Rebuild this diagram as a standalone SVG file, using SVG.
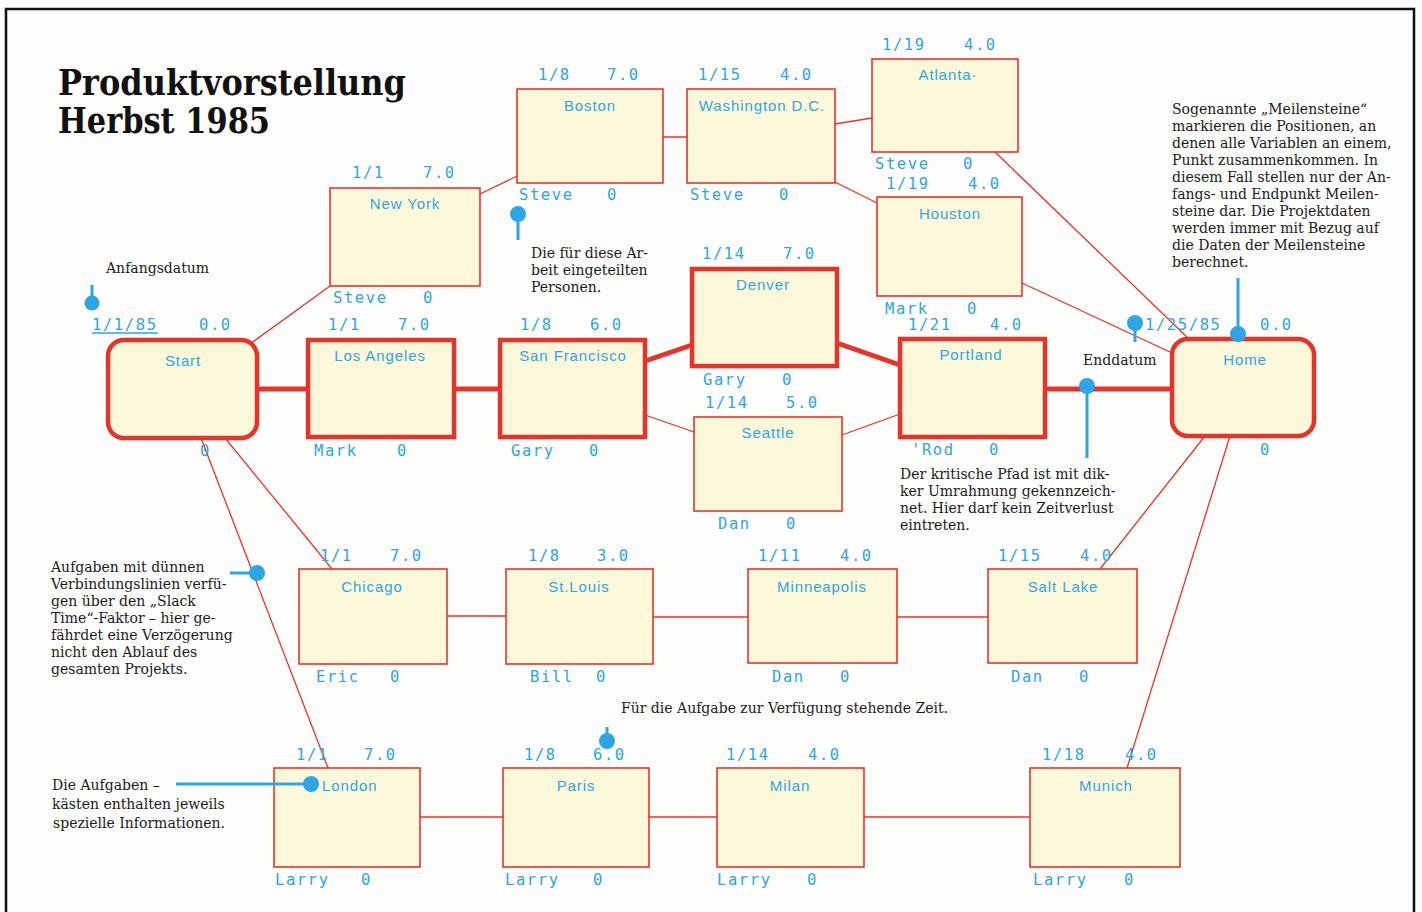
<svg xmlns="http://www.w3.org/2000/svg" width="1422" height="912" viewBox="0 0 1422 912">
<style>
.box{fill:#fcf9da;stroke:#e8332b;stroke-width:1.6}
.crit{stroke-width:4.5}
.t{font-family:"Liberation Sans",Arial,sans-serif;font-size:15px;fill:#2ea5e5;letter-spacing:0.9px}
.s{font-family:"DejaVu Sans Mono","Liberation Mono",monospace;font-size:15.5px;letter-spacing:1.6px}
.c{text-anchor:middle}
.thin{fill:none;stroke:#e8332b;stroke-width:1.3}
.thick{fill:none;stroke:#e8332b;stroke-width:5}
.note{font-family:"DejaVu Serif","Liberation Serif",serif;font-size:14px;fill:#1b1b1b}
.pin{fill:#2ea5e5}
.pl{stroke:#2ea5e5;stroke-width:3}
</style>
<rect x="0" y="0" width="1422" height="912" fill="#fdfdfb"/>
<rect x="6" y="9" width="1408" height="912" fill="none" stroke="#111" stroke-width="2.5"/>
<g id="title" font-family="'DejaVu Serif','Liberation Serif',serif" font-weight="bold" font-size="35" fill="#111">
<text x="58" y="95" textLength="348" lengthAdjust="spacingAndGlyphs">Produktvorstellung</text>
<text x="58" y="133" textLength="212" lengthAdjust="spacingAndGlyphs">Herbst 1985</text>
</g>
<g id="connectors">
<path class="thick" d="M257 389H308M454 389H500M645 361L692 345M837 343L900 365M1045 389H1172"/>
<path class="thin" d="M250 344L330 286M480 194L517 176M663 137H687M835 124L872 118M835 182L877 203M995 152L1190 340M1022 283L1172 353M645 415L694 432M842 435L900 414M201 438L328 768M225 438L332 569M447 616H506M653 617H748M897 617H988M1205 436L1100 569M1230 436L1127 768M420 817H503M649 817H717M864 817H1030"/>
</g>
<g id="start">
<rect class="box crit" x="108" y="340" width="149" height="98" rx="16"/>
<text class="t s" x="92" y="330">1/1/85</text><line x1="92" y1="333" x2="158" y2="333" stroke="#2ea5e5" stroke-width="1.3"/>
<text class="t s" x="199" y="330">0.0</text>
<text class="t c" x="183" y="366">Start</text>
<text class="t s" x="200" y="456">0</text>
</g>
<g id="newyork">
<rect class="box" x="330" y="188" width="150" height="98"/>
<text class="t s" x="352" y="178">1/1</text><text class="t s" x="423" y="178">7.0</text>
<text class="t c" x="405" y="209">New York</text>
<text class="t s" x="333" y="303">Steve</text><text class="t s" x="423" y="303">0</text>
</g>
<g id="boston">
<rect class="box" x="517" y="89" width="146" height="94"/>
<text class="t s" x="538" y="80">1/8</text><text class="t s" x="607" y="80">7.0</text>
<text class="t c" x="590" y="111">Boston</text>
<text class="t s" x="519" y="200">Steve</text><text class="t s" x="607" y="200">0</text>
</g>
<g id="washington">
<rect class="box" x="687" y="89" width="148" height="94"/>
<text class="t s" x="698" y="80">1/15</text><text class="t s" x="780" y="80">4.0</text>
<text class="t c" x="762" y="111">Washington D.C.</text>
<text class="t s" x="690" y="200">Steve</text><text class="t s" x="779" y="200">0</text>
</g>
<g id="atlanta">
<rect class="box" x="872" y="59" width="146" height="93"/>
<text class="t s" x="882" y="50">1/19</text><text class="t s" x="964" y="50">4.0</text>
<text class="t c" x="948" y="80">Atlanta·</text>
<text class="t s" x="875" y="169">Steve</text><text class="t s" x="963" y="169">0</text>
</g>
<g id="houston">
<rect class="box" x="877" y="197" width="145" height="99"/>
<text class="t s" x="886" y="189">1/19</text><text class="t s" x="968" y="189">4.0</text>
<text class="t c" x="950" y="219">Houston</text>
<text class="t s" x="885" y="314">Mark</text><text class="t s" x="967" y="314">0</text>
</g>
<g id="denver">
<rect class="box crit" x="692" y="269" width="145" height="97"/>
<text class="t s" x="702" y="259">1/14</text><text class="t s" x="783" y="259">7.0</text>
<text class="t c" x="763" y="290">Denver</text>
<text class="t s" x="703" y="385">Gary</text><text class="t s" x="782" y="385">0</text>
</g>
<g id="seattle">
<rect class="box" x="694" y="417" width="148" height="94"/>
<text class="t s" x="705" y="408">1/14</text><text class="t s" x="786" y="408">5.0</text>
<text class="t c" x="768" y="438">Seattle</text>
<text class="t s" x="718" y="529">Dan</text><text class="t s" x="786" y="529">0</text>
</g>
<g id="losangeles">
<rect class="box crit" x="308" y="340" width="146" height="97"/>
<text class="t s" x="328" y="330">1/1</text><text class="t s" x="398" y="330">7.0</text>
<text class="t c" x="380" y="361">Los Angeles</text>
<text class="t s" x="314" y="456">Mark</text><text class="t s" x="397" y="456">0</text>
</g>
<g id="sanfrancisco">
<rect class="box crit" x="500" y="340" width="145" height="97"/>
<text class="t s" x="520" y="330">1/8</text><text class="t s" x="590" y="330">6.0</text>
<text class="t c" x="573" y="361">San Francisco</text>
<text class="t s" x="511" y="456">Gary</text><text class="t s" x="589" y="456">0</text>
</g>
<g id="portland">
<rect class="box crit" x="900" y="339" width="145" height="98"/>
<text class="t s" x="908" y="330">1/21</text><text class="t s" x="990" y="330">4.0</text>
<text class="t c" x="971" y="360">Portland</text>
<text class="t s" x="911" y="455">'Rod</text><text class="t s" x="989" y="455">0</text>
</g>
<g id="home">
<rect class="box crit" x="1172" y="339" width="142" height="97" rx="16"/>
<text class="t s" x="1145" y="330">1/25/85</text><text class="t s" x="1260" y="330">0.0</text>
<text class="t c" x="1245" y="365">Home</text>
<text class="t s" x="1260" y="455">0</text>
</g>
<g id="chicago">
<rect class="box" x="299" y="569" width="148" height="95"/>
<text class="t s" x="320" y="561">1/1</text><text class="t s" x="390" y="561">7.0</text>
<text class="t c" x="372" y="592">Chicago</text>
<text class="t s" x="316" y="682">Eric</text><text class="t s" x="390" y="682">0</text>
</g>
<g id="stlouis">
<rect class="box" x="506" y="569" width="147" height="95"/>
<text class="t s" x="528" y="561">1/8</text><text class="t s" x="597" y="561">3.0</text>
<text class="t c" x="579" y="592">St.Louis</text>
<text class="t s" x="530" y="682">Bill</text><text class="t s" x="596" y="682">0</text>
</g>
<g id="minneapolis">
<rect class="box" x="748" y="569" width="149" height="94"/>
<text class="t s" x="758" y="561">1/11</text><text class="t s" x="840" y="561">4.0</text>
<text class="t c" x="822" y="592">Minneapolis</text>
<text class="t s" x="772" y="682">Dan</text><text class="t s" x="840" y="682">0</text>
</g>
<g id="saltlake">
<rect class="box" x="988" y="569" width="149" height="94"/>
<text class="t s" x="998" y="561">1/15</text><text class="t s" x="1080" y="561">4.0</text>
<text class="t c" x="1063" y="592">Salt Lake</text>
<text class="t s" x="1011" y="682">Dan</text><text class="t s" x="1079" y="682">0</text>
</g>
<g id="london">
<rect class="box" x="274" y="768" width="146" height="99"/>
<text class="t s" x="296" y="760">1/1</text><text class="t s" x="364" y="760">7.0</text>
<text class="t" x="322" y="791">London</text>
<text class="t s" x="275" y="885">Larry</text><text class="t s" x="361" y="885">0</text>
</g>
<g id="paris">
<rect class="box" x="503" y="768" width="146" height="99"/>
<text class="t s" x="524" y="760">1/8</text><text class="t s" x="593" y="760">6.0</text>
<text class="t c" x="576" y="791">Paris</text>
<text class="t s" x="505" y="885">Larry</text><text class="t s" x="593" y="885">0</text>
</g>
<g id="milan">
<rect class="box" x="717" y="768" width="147" height="99"/>
<text class="t s" x="726" y="760">1/14</text><text class="t s" x="808" y="760">4.0</text>
<text class="t c" x="790" y="791">Milan</text>
<text class="t s" x="717" y="885">Larry</text><text class="t s" x="807" y="885">0</text>
</g>
<g id="munich">
<rect class="box" x="1030" y="768" width="150" height="99"/>
<text class="t s" x="1042" y="760">1/18</text><text class="t s" x="1125" y="760">4.0</text>
<text class="t c" x="1106" y="791">Munich</text>
<text class="t s" x="1033" y="885">Larry</text><text class="t s" x="1124" y="885">0</text>
</g>
<g id="annotations">
<line class="pl" x1="92" y1="285" x2="92" y2="302"/><circle class="pin" cx="92" cy="303" r="7.5"/>
<line class="pl" x1="518" y1="214" x2="518" y2="240"/><circle class="pin" cx="518" cy="214" r="8"/>
<line class="pl" x1="1135" y1="323" x2="1135" y2="342"/><circle class="pin" cx="1135" cy="323" r="8"/>
<line class="pl" x1="1238" y1="278" x2="1238" y2="334"/><circle class="pin" cx="1238" cy="334" r="8"/>
<line class="pl" x1="1087" y1="386" x2="1087" y2="458"/><circle class="pin" cx="1087" cy="386" r="8"/>
<line class="pl" x1="230" y1="573" x2="257" y2="573"/><circle class="pin" cx="257" cy="573" r="8"/>
<line class="pl" x1="176" y1="784" x2="311" y2="784"/><circle class="pin" cx="311" cy="784" r="8"/>
<line class="pl" x1="607" y1="727" x2="607" y2="741"/><circle class="pin" cx="607" cy="741" r="8"/>
<text class="note" x="106" y="273">Anfangsdatum</text>
<text class="note" x="531" y="258">Die für diese Ar-</text>
<text class="note" x="531" y="275">beit eingeteilten</text>
<text class="note" x="531" y="292">Personen.</text>
<text class="note" x="1083" y="365">Enddatum</text>
<text class="note" x="1172" y="114">Sogenannte „Meilensteine“</text>
<text class="note" x="1172" y="131">markieren die Positionen, an</text>
<text class="note" x="1172" y="148">denen alle Variablen an einem,</text>
<text class="note" x="1172" y="165">Punkt zusammenkommen. In</text>
<text class="note" x="1172" y="182">diesem Fall stellen nur der An-</text>
<text class="note" x="1172" y="199">fangs- und Endpunkt Meilen-</text>
<text class="note" x="1172" y="216">steine dar. Die Projektdaten</text>
<text class="note" x="1172" y="233">werden immer mit Bezug auf</text>
<text class="note" x="1172" y="250">die Daten der Meilensteine</text>
<text class="note" x="1172" y="267">berechnet.</text>
<text class="note" x="900" y="479">Der kritische Pfad ist mit dik-</text>
<text class="note" x="900" y="496">ker Umrahmung gekennzeich-</text>
<text class="note" x="900" y="513">net. Hier darf kein Zeitverlust</text>
<text class="note" x="900" y="530">eintreten.</text>
<text class="note" x="51" y="572">Aufgaben mit dünnen</text>
<text class="note" x="51" y="589">Verbindungslinien verfü-</text>
<text class="note" x="51" y="606">gen über den „Slack</text>
<text class="note" x="51" y="623">Time“-Faktor – hier ge-</text>
<text class="note" x="51" y="640">fährdet eine Verzögerung</text>
<text class="note" x="51" y="657">nicht den Ablauf des</text>
<text class="note" x="51" y="674">gesamten Projekts.</text>
<text class="note" x="621" y="713">Für die Aufgabe zur Verfügung stehende Zeit.</text>
<text class="note" x="52" y="790">Die Aufgaben –</text>
<text class="note" x="52" y="809">kästen enthalten jeweils</text>
<text class="note" x="53" y="828">spezielle Informationen.</text>
</g>
</svg>
